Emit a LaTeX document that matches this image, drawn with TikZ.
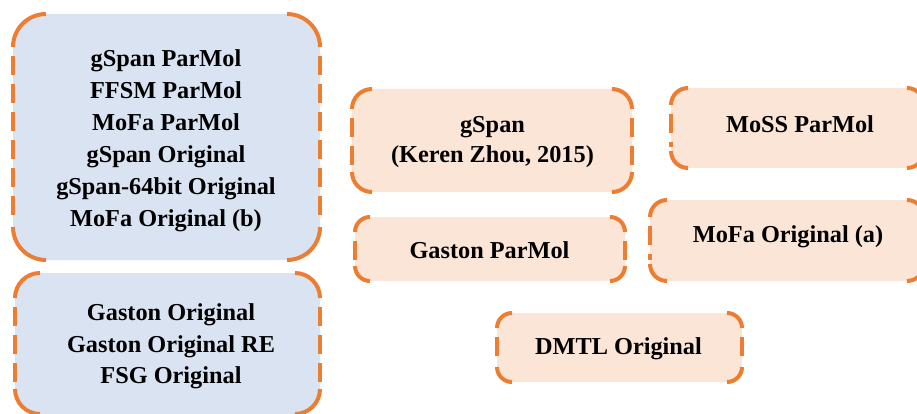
\documentclass[tikz,border=0pt]{standalone}
\usepackage{fontspec}
\setmainfont{Liberation Serif}
\definecolor{dashorange}{HTML}{ED7D31}
\definecolor{paleblue}{HTML}{DAE3F1}
\definecolor{palepeach}{HTML}{FBE5D6}
\newcommand\gframe[2]{%
  \draw[framecorner, rounded corners=#2] ([xshift=#2]#1.north west) -- (#1.north west) -- ([yshift=-#2]#1.north west);
  \draw[framecorner, rounded corners=#2] ([xshift=-#2]#1.north east) -- (#1.north east) -- ([yshift=-#2]#1.north east);
  \draw[framecorner, rounded corners=#2] ([xshift=#2]#1.south west) -- (#1.south west) -- ([yshift=#2]#1.south west);
  \draw[framecorner, rounded corners=#2] ([xshift=-#2]#1.south east) -- (#1.south east) -- ([yshift=#2]#1.south east);
  \draw[frameside] ([yshift=-#2-9pt]#1.north west) -- ([yshift=#2+4pt]#1.south west);
  \draw[frameside] ([yshift=-#2-9pt]#1.north east) -- ([yshift=#2+4pt]#1.south east);
}
\begin{document}
\begin{tikzpicture}[x=1pt,y=-1pt,
  grpbox/.style={rectangle, draw=none, inner sep=0pt, outer sep=0pt},
  bluebox/.style={grpbox, fill=paleblue},
  peachbox/.style={grpbox, fill=palepeach},
  framecorner/.style={draw=dashorange, line width=4pt},
  frameside/.style={draw=dashorange, line width=4pt, dash pattern=on 19pt off 9pt},
  lbl/.style={align=center, inner sep=0pt, text=black,
    font=\fontsize{24.3}{32}\selectfont\bfseries}]
\useasboundingbox (0,0) rectangle (917,414);
\clip (0,0) rectangle (917,414);
% boxes
\node[bluebox, rounded corners=33pt, minimum width=307pt, minimum height=246pt] (parmolbox) at (166.5,137) {};
\gframe{parmolbox}{33pt}
\node[bluebox, rounded corners=25pt, minimum width=305pt, minimum height=141pt] (gastonbox) at (167.5,343.5) {};
\gframe{gastonbox}{25pt}
\node[peachbox, rounded corners=20pt, minimum width=280pt, minimum height=103pt] (gspanbox) at (492,140.5) {};
\gframe{gspanbox}{20pt}
\node[peachbox, rounded corners=17pt, minimum width=253pt, minimum height=80pt] (mossbox) at (797.5,128) {};
\gframe{mossbox}{17pt}
\node[peachbox, rounded corners=15pt, minimum width=270pt, minimum height=64pt] (gastonpmbox) at (490,249) {};
\gframe{gastonpmbox}{15pt}
\node[peachbox, rounded corners=17pt, minimum width=274pt, minimum height=81pt] (mofaabox) at (787,240.5) {};
\gframe{mofaabox}{17pt}
\node[peachbox, rounded corners=15pt, minimum width=245pt, minimum height=69pt] (dmtlbox) at (619.5,347.5) {};
\gframe{dmtlbox}{15pt}
% texts
\node[lbl] (parmol) at (166,141)
  {gSpan ParMol\\FFSM ParMol\\MoFa ParMol\\gSpan Original\\gSpan-64bit Original\\MoFa Original (b)};
\node[lbl, font=\fontsize{24.3}{31.5}\selectfont\bfseries] (gaston) at (171,346.5)
  {Gaston Original\\Gaston Original RE\\FSG Original};
\node[lbl, font=\fontsize{24.3}{30}\selectfont\bfseries] (gspan) at (492.5,142)
  {gSpan\\(Keren Zhou, 2015)};
\node[lbl] (moss) at (800,124) {MoSS ParMol};
\node[lbl] (gastonpm) at (489.5,250) {Gaston ParMol};
\node[lbl] (mofaa) at (788,237) {MoFa Original (a)};
\node[lbl] (dmtl) at (618.5,348.4) {DMTL Original};
\end{tikzpicture}
\end{document}
